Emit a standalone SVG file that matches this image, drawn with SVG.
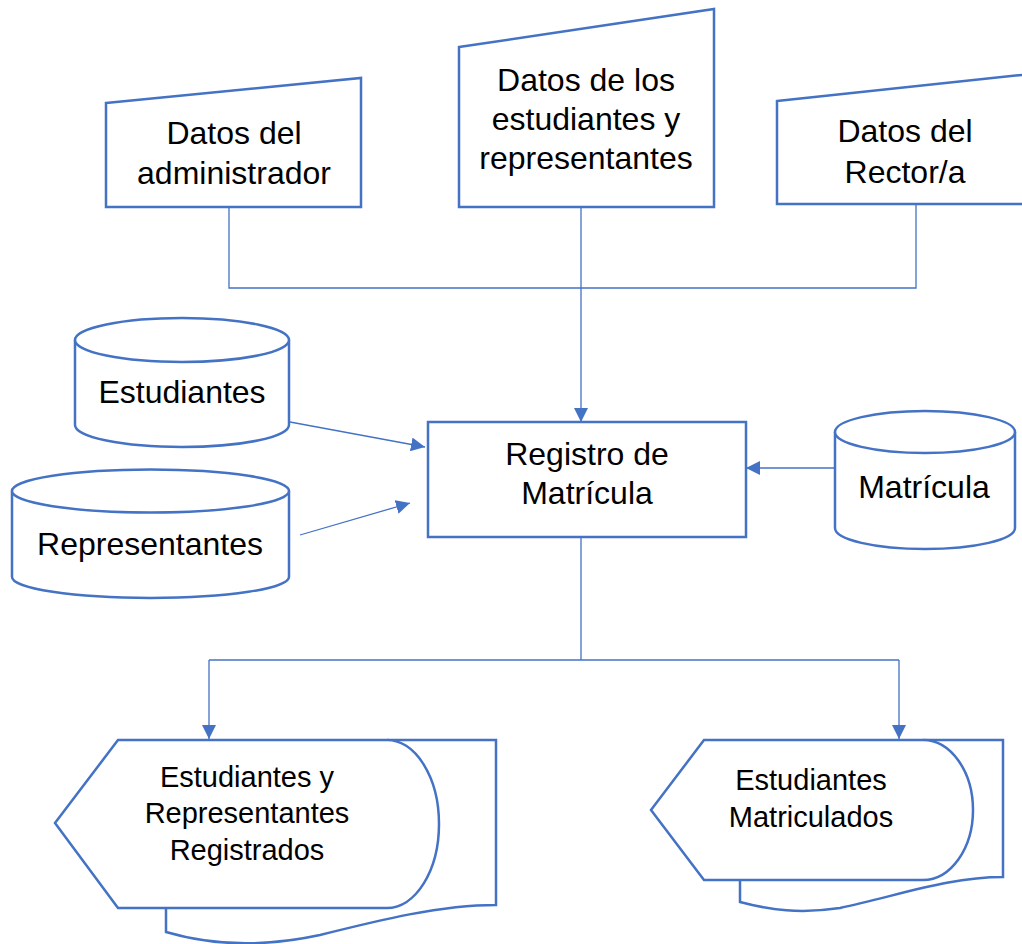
<svg xmlns="http://www.w3.org/2000/svg" width="1022" height="944" viewBox="0 0 1022 944">
<defs>
<style>
.s{fill:#fff;stroke:#4472C4;stroke-width:2.5;stroke-linejoin:miter}
.c{fill:none;stroke:#4472C4;stroke-width:1.3}
.t{font-family:"Liberation Sans",Arial,sans-serif;fill:#000;text-anchor:middle}
.big{font-size:32px}
.mid{font-size:32px}
.sm{font-size:29px}
</style>
<marker id="ah" markerUnits="userSpaceOnUse" markerWidth="14" markerHeight="14" viewBox="0 0 14 14" refX="14" refY="7" orient="auto">
<path d="M0,0 L14,7 L0,14 Z" fill="#4472C4"/>
</marker>
</defs>
<rect width="1022" height="944" fill="#fff"/>
<g id="connectors">
<polyline class="c" points="229,207 229,288 916,288 916,204"/>
<line class="c" x1="581" y1="207" x2="581" y2="422" marker-end="url(#ah)"/>
<line class="c" x1="290" y1="422" x2="425" y2="447" marker-end="url(#ah)"/>
<line class="c" x1="300" y1="535" x2="410" y2="503" marker-end="url(#ah)"/>
<line class="c" x1="835" y1="468" x2="746" y2="468" marker-end="url(#ah)"/>
<polyline class="c" points="581,537 581,660"/>
<polyline class="c" points="209,660 899,660"/>
<line class="c" x1="209" y1="660" x2="209" y2="739" marker-end="url(#ah)"/>
<line class="c" x1="899" y1="660" x2="899" y2="739" marker-end="url(#ah)"/>
</g>
<g id="admin">
<polygon class="s" points="106,103 361,78 361,207 106,207"/>
<text class="t big" x="234" y="144">Datos del</text>
<text class="t big" x="234" y="184">administrador</text>
</g>
<g id="estudiantes-datos">
<polygon class="s" points="459,47 714,9 714,207 459,207"/>
<text class="t big" x="586" y="91">Datos de los</text>
<text class="t big" x="586" y="130">estudiantes y</text>
<text class="t big" x="586" y="169">representantes</text>
</g>
<g id="rector">
<polygon class="s" points="777,101 1040,73 1040,204 777,204"/>
<text class="t big" x="905" y="142">Datos del</text>
<text class="t big" x="905" y="183">Rector/a</text>
</g>
<g id="estudiantes">
<path class="s" d="M75,340 L75,425 A107,22 0 0 0 289,425 L289,340"/>
<ellipse class="s" cx="182" cy="340" rx="107" ry="22"/>
<text class="t big" x="182" y="403">Estudiantes</text>
</g>
<g id="representantes">
<path class="s" d="M12,491 L12,577 A138.5,21 0 0 0 289,577 L289,491"/>
<ellipse class="s" cx="150.5" cy="491" rx="138.5" ry="21.5"/>
<text class="t big" x="150" y="555">Representantes</text>
</g>
<g id="registro">
<rect class="s" x="428" y="422" width="318" height="115"/>
<text class="t mid" x="587" y="465">Registro de</text>
<text class="t mid" x="587" y="504">Matrícula</text>
</g>
<g id="matricula">
<path class="s" d="M835,432 L835,528 A90,21 0 0 0 1015,528 L1015,432"/>
<ellipse class="s" cx="925" cy="432" rx="90" ry="21"/>
<text class="t mid" x="924" y="498">Matrícula</text>
</g>
<g id="registrados">
<path class="s" d="M166,908 L166,932 C210,945 260,948 320,935 C380,920 440,905 496,905 L496,740 L387,740"/>
<path class="s" d="M55,823 L118,740 L387,740 A52,84 0 0 1 387,908 L118,908 Z"/>
<text class="t sm" x="247" y="787">Estudiantes y</text>
<text class="t sm" x="247" y="823">Representantes</text>
<text class="t sm" x="247" y="860">Registrados</text>
</g>
<g id="matriculados">
<path class="s" d="M740,880 L740,902 C770,910 800,914 840,908 C900,895 950,877 1003,877 L1003,740 L923,740"/>
<path class="s" d="M651,810 L704,740 L923,740 A50,70 0 0 1 923,880 L704,880 Z"/>
<text class="t sm" x="811" y="790">Estudiantes</text>
<text class="t sm" x="811" y="827">Matriculados</text>
</g>
</svg>
